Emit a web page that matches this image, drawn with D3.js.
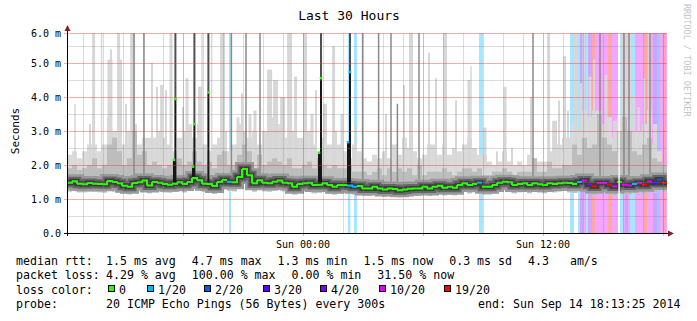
<!DOCTYPE html>
<html><head><meta charset="utf-8">
<script src="https://cdn.jsdelivr.net/npm/d3@7"></script>
<style>
html,body{margin:0;padding:0;background:#fff;}
svg{display:block;}
text{font-family:"DejaVu Sans Mono",monospace;fill:#000;}
</style></head><body>
<svg id="chart" width="697" height="321"></svg>
<script>
// ---------------- data ----------------
const graphStart = new Date(2014, 8, 13, 12, 13, 25);
const graphEnd   = new Date(2014, 8, 14, 18, 13, 25);
const binMinutes = 15;           // each value below covers 15 minutes
const yUpper = 5.88;             // graph upper limit (ms), labelled 6.0

const medianRtt = [
1.48,1.52,1.45,1.43,1.47,1.45,1.44,1.43,1.53,1.50,1.46,1.39,1.36,1.47,1.49,1.54,1.40,1.50,1.48,1.44,
1.42,1.45,1.49,1.44,1.50,1.62,1.55,1.45,1.44,1.38,1.50,1.56,1.50,1.49,1.65,1.88,1.70,1.46,1.55,1.48,
1.46,1.51,1.54,1.48,1.46,1.36,1.44,1.46,1.48,1.41,1.42,1.46,1.41,1.36,1.41,1.41,1.40,1.36,1.38,1.31,
1.31,1.36,1.31,1.28,1.31,1.29,1.26,1.28,1.30,1.31,1.31,1.36,1.31,1.36,1.39,1.33,1.36,1.33,1.41,1.46,
1.41,1.44,1.48,1.36,1.36,1.41,1.48,1.51,1.49,1.41,1.44,1.46,1.41,1.46,1.43,1.41,1.46,1.44,1.46,1.48,
1.47,1.44,1.50,1.54,1.42,1.37,1.47,1.47,1.42,1.37,1.50,1.42,1.40,1.44,1.47,1.42,1.52,1.47,1.57,1.47];

const minRtt = [
1.22,1.24,1.20,1.20,1.22,1.21,1.20,1.19,1.24,1.22,1.20,1.16,1.14,1.22,1.23,1.26,1.17,1.24,1.22,1.20,
1.19,1.21,1.23,1.20,1.24,1.30,1.28,1.21,1.20,1.15,1.24,1.28,1.24,1.23,1.34,1.50,1.40,1.22,1.28,1.23,
1.22,1.25,1.27,1.23,1.22,1.13,1.20,1.22,1.23,1.17,1.18,1.22,1.17,1.13,1.17,1.17,1.16,1.13,1.14,1.09,
1.09,1.13,1.09,1.06,1.09,1.07,1.05,1.06,1.08,1.09,1.09,1.13,1.09,1.13,1.16,1.11,1.13,1.11,1.17,1.22,
1.17,1.20,1.23,1.13,1.13,1.17,1.23,1.26,1.24,1.17,1.20,1.22,1.17,1.22,1.19,1.17,1.22,1.20,1.22,1.24,
1.20,1.18,1.22,1.26,1.15,1.10,1.20,1.19,1.15,1.10,1.22,1.15,1.13,1.17,1.19,1.14,1.24,1.19,1.28,1.20];

const upperRtt = [
1.9,2.0,1.85,1.9,2.0,2.2,1.9,2.0,2.6,2.8,2.4,2.0,2.2,3.0,2.3,2.4,2.0,2.1,2.0,1.9,
2.0,2.1,2.2,2.0,2.1,2.4,2.1,2.0,2.1,1.9,2.3,2.4,2.0,2.0,2.3,2.6,2.4,1.9,2.3,2.0,
2.1,2.2,2.1,2.0,2.2,1.9,1.9,2.0,2.1,1.9,2.2,2.0,1.9,2.0,1.9,1.9,2.0,1.8,1.8,1.8,
1.7,1.8,1.9,1.7,1.9,1.8,1.9,1.8,1.9,1.7,2.0,1.7,1.8,1.8,1.8,1.9,1.8,1.7,1.8,1.9,
1.9,1.8,1.9,1.7,1.7,1.8,1.8,1.9,1.8,1.7,1.8,1.8,1.8,2.2,1.8,1.8,2.1,1.9,1.9,2.0,
2.0,2.6,2.3,2.8,2.5,2.6,3.5,2.8,2.6,2.4,3.0,3.4,3.0,2.4,2.3,2.6,2.8,2.2,2.1,2.0];

// usual upper edge of the light smoke per 15 minutes
const maxRtt = [
2.3,2.4,2.2,2.4,2.6,2.6,2.4,2.6,3.4,3.0,2.8,2.6,3.0,3.2,2.6,2.8,2.8,2.8,3.0,2.8,
2.6,2.4,2.8,3.0,3.2,2.8,3.2,2.6,2.4,2.6,2.8,3.0,2.4,2.6,3.2,3.0,2.8,3.0,2.6,3.0,
3.6,3.4,3.2,2.8,2.8,3.0,2.8,2.8,3.0,2.6,2.4,2.8,2.6,3.0,2.6,2.4,2.2,2.6,2.4,2.2,
2.1,2.3,2.2,2.4,2.2,2.6,2.3,2.8,2.5,2.4,2.2,2.3,2.6,2.6,2.3,2.6,2.3,2.5,2.4,2.6,
2.8,2.5,2.3,2.3,2.1,2.0,2.1,2.4,2.1,2.0,2.1,2.0,2.3,2.2,2.1,2.1,2.4,2.5,2.6,2.8,
2.8,3.2,3.0,3.6,3.4,3.6,3.6,3.2,3.4,2.8,3.4,4.0,3.6,3.0,3.0,3.2,3.6,2.6,2.4,2.0];

// isolated slow pings: centre (hours after start), duration (minutes), max ms
const slowH   = [0.40,1.15,1.33,1.73,2.15,2.20,2.58,2.70,2.95,3.28,4.25,4.50,4.73,4.95,5.20,5.80,6.00,6.65,6.75,7.23,7.78,8.55,8.75,9.15,9.40,10.13,10.43,10.78,11.13,11.43,11.90,12.25,12.45,12.90,13.33,13.75,14.40,15.95,16.85,17.20,18.10,18.45,18.90,19.45,20.10,20.20,20.90,21.50,21.90,22.25,23.20,24.08,24.38,24.60,24.88,25.05,25.45,25.70,25.85,26.15,26.35,26.95,27.40,27.75,27.98,28.18,28.35,28.58,28.85,29.13,29.40];
const slowMin = [4.5,6,9,4.5,15,6,9,6,6,15,6,6,9,6,9,6,9,12,4.5,4.5,15,9,6,9,9,15,15,15,15,9,12,9,6,12,9,9,6,6,6,12,6,6,12,6,9,4.5,9,6,9,6,6,9,15,6,9,6,12,6,9,9,6,9,12,9,12,9,9,9,6,9,12];
const slowTop = [3.8,3.2,6,6,5.1,5.4,6,5.1,3.8,6,5.0,4.3,4.35,4.2,6,3.7,4.55,4.3,6,6,6,3.4,4.1,3.5,3.6,4.8,4.5,4.0,6,4.6,6,3.5,4.2,3.8,5.5,3.5,3.2,3.5,4.35,6,5.3,4.55,6,3.9,4.5,4.9,3.1,2.4,4.3,2.5,4.0,6,3.3,3.9,5.2,3.6,6,4.4,6,4.6,5.1,4.65,3.3,6,6,6,4.0,3.7,4.55,6,3.2];

// packet loss periods (hours after graph start) and lost pings out of 20
const lossStartH = [8.10,14.04,14.35,20.60,25.15,25.55,25.65,25.80,25.95,26.05,26.25,26.40,27.05,27.25,27.65,27.80,27.90,28.05,28.15,28.40,28.85,29.00,29.30,29.50,29.65,29.85,29.95];
const lossEndH   = [8.20,14.17,14.50,20.80,25.35,25.65,25.80,25.95,26.05,26.25,26.40,27.05,27.25,27.55,27.80,27.90,28.05,28.15,28.40,28.85,29.00,29.30,29.50,29.65,29.85,29.95,30.00];
const lossCount  = [1,1,1,1,1,1,3,10,1,4,19,10,19,10,1,10,3,10,1,10,19,10,3,2,10,19,10];

// missing data
const gapStartH = [27.57];
const gapEndH   = [27.64];

// single steps where most pings were slow (hours after start, max ms)
const darkLineH   = [3.35,3.85,8.22,8.95,9.65,14.78,15.58,16.20,16.52,17.60,23.30,26.65,27.85,28.10,29.15];
const darkLineTop = [6,6,6,6,6,6,6,6,3.8,6,6,6,6,6,6];

// single steps where the median itself jumped
const spikeH      = [5.35,5.42,6.30,6.37,7.07,12.60,12.70,14.05,14.15];
const spikeMedian = [2.15,3.94,1.95,3.20,4.13,2.36,4.55,2.67,4.73];
const spikeTop    = [2.15,6,1.95,6,6,2.36,6,2.67,6];

const yLabelValues = [0,1,2,3,4,5,yUpper];
const lossLegendLabels = ["0","1/20","2/20","3/20","4/20","10/20","19/20"];
const lossLegendCounts = [0,1,2,3,4,10,19];
const lossColors = ["#26ff00","#00b8ff","#0059ff","#5e00ff","#7e00ff","#dd00ff","#ff0000"];
const rttStats  = ["1.5 ms avg","4.7 ms max","1.3 ms min","1.5 ms now","0.3 ms sd","4.3   am/s"];
const lossStats = ["4.29 % avg","100.00 % max","0.00 % min","31.50 % now"];
const titleText = "Last 30 Hours";
const probeText = "20 ICMP Echo Pings (56 Bytes) every 300s";
const endText = "end: Sun Sep 14 18:13:25 2014";

// ---------------- drawing ----------------
const W = 697, H = 321;
const X0 = 67, X1 = 667, Y0 = 233, Y1 = 33;
const svg = d3.select("#chart");
const N = medianRtt.length;

const x = d3.scaleTime().domain([graphStart, graphEnd]).range([X0, X1]);
const y = d3.scaleLinear().domain([0, yUpper]).range([Y0, Y1]);
const hDate = h => new Date(+graphStart + h * 3600000);
const binDate = i => new Date(+graphStart + i * binMinutes * 60000);
const val = (arr, i) => arr[Math.min(i, N - 1)];
const binOf = h => Math.min(N - 1, Math.floor(h * 60 / binMinutes));
const medAt = h => medianRtt[binOf(h)];

function lossIdx(c) { let k = 0; lossLegendCounts.forEach((t, j) => { if (c >= t) k = j; }); return k; }
function lossAt(h) {
  for (let k = 0; k < lossStartH.length; k++) if (h >= lossStartH[k] && h < lossEndH[k]) return lossCount[k];
  return 0;
}
function lightColor(c) {
  const col = d3.rgb(lossColors[lossIdx(c)]), a = 0.35;
  return d3.rgb(255 * (1 - a) + col.r * a, 255 * (1 - a) + col.g * a, 255 * (1 - a) + col.b * a).formatHex();
}

svg.append("rect").attr("width", W).attr("height", H).attr("fill", "#fff");
svg.append("defs").append("clipPath").attr("id", "plotclip")
  .append("rect").attr("x", X0).attr("y", Y1).attr("width", X1 - X0).attr("height", Y0 - Y1);
const plot = svg.append("g").attr("clip-path", "url(#plotclip)");

// loss background
plot.selectAll("rect.loss").data(d3.range(lossStartH.length)).join("rect")
  .attr("x", k => x(hDate(lossStartH[k])))
  .attr("width", k => x(hDate(lossEndH[k])) - x(hDate(lossStartH[k])))
  .attr("y", Y1).attr("height", Y0 - Y1)
  .attr("fill", k => lightColor(lossCount[k]));

// smoke
const pts = d3.range(N + 1);
const band = (lo, hi) => d3.area().curve(d3.curveStepAfter)
  .x(i => x(binDate(i))).y0(i => y(val(lo, i))).y1(i => y(val(hi, i)));
plot.append("path").datum(pts).attr("d", band(minRtt, maxRtt)).attr("fill", "#dadada");

plot.selectAll("rect.slow").data(d3.range(slowH.length)).join("rect")
  .attr("x", k => x(hDate(slowH[k] - slowMin[k] / 120)))
  .attr("width", k => x(hDate(slowH[k] + slowMin[k] / 120)) - x(hDate(slowH[k] - slowMin[k] / 120)))
  .attr("y", k => y(slowTop[k]))
  .attr("height", k => y(minRtt[binOf(slowH[k])]) - y(slowTop[k]))
  .attr("fill", "#d7d7d7");

plot.append("path").datum(pts).attr("d", band(minRtt, upperRtt)).attr("fill", "#bdbdbd");

plot.selectAll("rect.dline").data(d3.range(darkLineH.length)).join("rect")
  .attr("x", k => x(hDate(darkLineH[k])) - 0.75).attr("width", 1.5)
  .attr("y", k => y(darkLineTop[k]))
  .attr("height", k => y(medAt(darkLineH[k])) - y(darkLineTop[k]))
  .attr("fill", "#8a8a8a");

const medLine = d3.line().curve(d3.curveStepAfter).x(i => x(binDate(i))).y(i => y(val(medianRtt, i)));
plot.append("path").datum(pts).attr("d", medLine).attr("fill", "none").attr("stroke", "#9a9a9a").attr("stroke-width", 14);
plot.append("path").datum(pts).attr("d", medLine).attr("fill", "none").attr("stroke", "#666").attr("stroke-width", 9);
plot.append("path").datum(pts).attr("d", medLine).attr("fill", "none").attr("stroke", "#3c3c3c").attr("stroke-width", 5);

// median spikes
const sp = d3.range(spikeH.length);
plot.selectAll("rect.sptop").data(sp).join("rect")
  .attr("x", k => x(hDate(spikeH[k])) - 1).attr("width", 2)
  .attr("y", k => y(spikeTop[k])).attr("height", k => y(spikeMedian[k]) - y(spikeTop[k]))
  .attr("fill", "#505050");
plot.selectAll("rect.spcol").data(sp).join("rect")
  .attr("x", k => x(hDate(spikeH[k])) - 1).attr("width", 2)
  .attr("y", k => y(spikeMedian[k])).attr("height", k => y(medAt(spikeH[k])) - y(spikeMedian[k]))
  .attr("fill", "#161616");

// median coloured by loss
const medG = plot.append("g");
d3.range(N).forEach(i => {
  const c = lossColors[lossIdx(lossAt((i + 0.5) * binMinutes / 60))];
  const p = d3.path();
  p.moveTo(x(binDate(i)), y(medianRtt[i]));
  p.lineTo(x(binDate(i + 1)), y(medianRtt[i]));
  if (i < N - 1) {
    const c2 = lossColors[lossIdx(lossAt((i + 1.5) * binMinutes / 60))];
    if (c2 === c) p.lineTo(x(binDate(i + 1)), y(medianRtt[i + 1]));
  }
  medG.append("path").attr("d", p.toString()).attr("fill", "none").attr("stroke", c).attr("stroke-width", 2);
});
plot.selectAll("rect.spdot").data(sp).join("rect")
  .attr("x", k => x(hDate(spikeH[k])) - 1.25).attr("width", 2.5)
  .attr("y", k => y(spikeMedian[k]) - 1.25).attr("height", 2.5)
  .attr("fill", k => lossColors[lossIdx(lossAt(spikeH[k]))]);

// gaps
plot.selectAll("rect.gap").data(d3.range(gapStartH.length)).join("rect")
  .attr("x", k => x(hDate(gapStartH[k]))).attr("width", k => x(hDate(gapEndH[k])) - x(hDate(gapStartH[k])))
  .attr("y", Y1).attr("height", Y0 - Y1).attr("fill", "#fff");

// grid (drawn over the graph, like rrdtool)
const grid = svg.append("g").attr("shape-rendering", "crispEdges");
const minorCol = "rgba(130,130,130,0.28)", majorCol = "rgba(225,60,60,0.42)";
d3.timeHour.range(graphStart, graphEnd).forEach(d => {
  const major = d.getHours() % 6 === 0;
  const xx = Math.round(x(d)) + 0.5;
  grid.append("line").attr("x1", xx).attr("x2", xx).attr("y1", Y1).attr("y2", Y0 + (major ? 3 : 0))
    .attr("stroke", major ? majorCol : minorCol);
});
d3.range(0.5, yUpper, 0.5).concat([yUpper]).forEach(v => {
  const major = Number.isInteger(v) || v === yUpper;
  const yy = Math.round(y(v)) + 0.5;
  grid.append("line").attr("x1", X0 - (major ? 3 : 0)).attr("x2", X1).attr("y1", yy).attr("y2", yy)
    .attr("stroke", major ? majorCol : minorCol);
});

// axes lines + arrows
const ax = svg.append("g").attr("shape-rendering", "crispEdges");
ax.append("line").attr("x1", X0 - 3).attr("x2", X1 + 1).attr("y1", Y0 + 0.5).attr("y2", Y0 + 0.5).attr("stroke", "#000");
ax.append("line").attr("x1", X0 + 0.5).attr("x2", X0 + 0.5).attr("y1", Y0 + 3).attr("y2", Y1 - 3).attr("stroke", "#000");
svg.append("path").attr("d", `M${X1 + 1},${Y0 - 2.5}L${X1 + 7},${Y0 + 0.5}L${X1 + 1},${Y0 + 3.5}Z`).attr("fill", "#7f1f1f");
svg.append("path").attr("d", `M${X0 - 2.5},${Y1 - 2}L${X0 + 0.5},${Y1 - 8}L${X0 + 3.5},${Y1 - 2}Z`).attr("fill", "#7f1f1f");

// axis labels through d3 axes
const yAxis = d3.axisLeft(y).tickValues(yLabelValues).tickSize(0).tickPadding(6)
  .tickFormat(d => d === 0 ? "0.0" : d3.format(".1f")(Math.round(d)) + " m");
const gy = svg.append("g").attr("transform", `translate(${X0},0)`).call(yAxis);
gy.select(".domain").remove();
gy.selectAll("text").attr("font-family", "DejaVu Sans Mono").attr("font-size", 10).attr("fill", "#000");

const xAxis = d3.axisBottom(x).tickValues(d3.timeHour.every(12).range(graphStart, graphEnd))
  .tickSize(0).tickPadding(8).tickFormat(d3.timeFormat("%a %H:%M"));
const gx = svg.append("g").attr("transform", `translate(0,${Y0})`).call(xAxis);
gx.select(".domain").remove();
gx.selectAll("text").attr("font-family", "DejaVu Sans Mono").attr("font-size", 10).attr("fill", "#000");

// title, y title, watermark
svg.append("text").attr("x", 349).attr("y", 20).attr("text-anchor", "middle").attr("font-size", 13).text(titleText);
svg.append("text").attr("transform", "translate(19,131) rotate(-90)").attr("text-anchor", "middle")
  .attr("font-size", 11).text("Seconds");
svg.append("text").attr("transform", "translate(683.5,4) rotate(90)").attr("font-size", 8.5)
  .style("fill", "#c4c4c4").text("RRDTOOL / TOBI OETIKER");

// legend
const CW = 6.98, FS = 11.6, GAP = 16;
const leg = svg.append("g").attr("font-size", FS);
function statRow(label, items, yb) {
  leg.append("text").attr("x", 16).attr("y", yb).text(label);
  let xx = 106;
  items.forEach(s => {
    leg.append("text").attr("x", xx).attr("y", yb).attr("xml:space", "preserve").style("white-space", "pre").text(s);
    xx += s.length * CW + GAP;
  });
}
statRow("median rtt:", rttStats, 264.5);
statRow("packet loss:", lossStats, 279);
leg.append("text").attr("x", 16).attr("y", 293.5).text("loss color:");
const sqX = [108, 147, 204, 263, 320, 379, 444];
lossLegendLabels.forEach((l, j) => {
  leg.append("rect").attr("x", sqX[j] + 0.5).attr("y", 285.5).attr("width", 6).attr("height", 6)
    .attr("fill", lossColors[j]).attr("stroke", "#000").attr("stroke-width", 1);
  leg.append("text").attr("x", sqX[j] + 11).attr("y", 293.5).text(l);
});
leg.append("text").attr("x", 16).attr("y", 308).text("probe:");
leg.append("text").attr("x", 106).attr("y", 308).text(probeText);
leg.append("text").attr("x", 680.5).attr("y", 308).attr("text-anchor", "end").text(endText);
</script>
</body></html>
